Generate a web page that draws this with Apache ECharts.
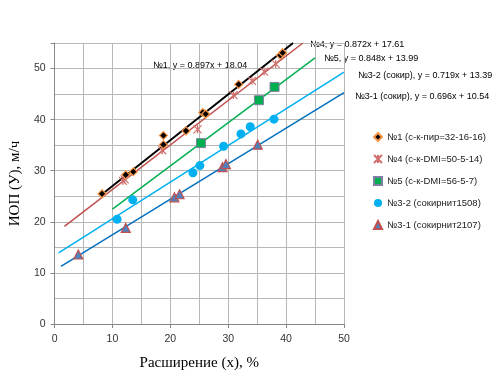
<!DOCTYPE html>
<html>
<head>
<meta charset="utf-8">
<script src="https://cdn.jsdelivr.net/npm/echarts@6/dist/echarts.min.js"></script>
<style>html,body{margin:0;padding:0;background:#fff}#c{width:500px;height:385px}</style>
</head>
<body>
<div id="c"></div>
<script>
// Series names
var names = ['№1 (с-к-пир=32-16-16)', '№4 (с-к-DMI=50-5-14)', '№5 (с-к-DMI=56-5-7)', '№3-2 (сокирнит1508)', '№3-1 (сокирнит2107)'];
// Data points [x, y]
var s1 = [[8.2,25.5],[12.3,29.2],[13.6,29.8],[18.8,35.1],[18.8,36.9],[22.7,37.8],[25.6,41.4],[26.1,41.1],[31.8,46.9],[39.0,52.6],[39.4,53.1]];
var s4 = [[11.8,28.0],[12.1,28.3],[18.6,34.0],[24.7,38.1],[30.9,44.8],[34.1,47.6],[36.2,49.4],[38.2,50.9]];
var s5 = [[25.3,35.4],[35.3,43.8],[38.0,46.4]];
var s32 = [[10.8,20.5],[13.5,24.3],[23.9,29.6],[25.1,31.0],[29.2,34.8],[32.2,37.2],[33.8,38.6],[37.9,40.1]];
var s31 = [[4.1,13.6],[12.3,18.8],[20.7,24.8],[21.6,25.4],[29.0,30.7],[29.6,31.3],[35.1,35.1]];
// Trendline endpoints [x, y] (from equations on chart)
var t1 = [[8.2,25.4],[41.2,55.0]];
var t4 = [[1.7,19.1],[42.9,55.0]];
var t5 = [[10.0,22.5],[45.0,52.1]];
var t32 = [[0.7,13.9],[50.0,49.3]];
var t31 = [[1.1,11.3],[50.0,45.3]];
// Trendline labels
var trendLabels = ['№1, y = 0.897x + 18.04', '№4, y = 0.872x + 17.61', '№5, y = 0.848x + 13.99', '№3-2 (сокир), y = 0.719x + 13.39', '№3-1 (сокир), y = 0.696x + 10.54'];
var xTitle = 'Расширение (x), %';
var yTitle = 'ИОП (У), м/ч';

var chart = echarts.init(document.getElementById('c'), null, {renderer: 'canvas'});
var lab = {fontFamily: 'Liberation Sans', fontSize: 9, color: '#222'};
function trend(d, color, w) {
  return {type: 'line', data: d, symbol: 'none', silent: true, lineStyle: {color: color, width: w}, z: 3, legendHoverLink: false};
}
var xPath = 'path://M0,0L10,10M10,0L0,10M5,0L5,10';
chart.setOption({
  animation: false,
  grid: {left: 51, right: 156, top: 43, bottom: 61},
  xAxis: {
    type: 'value', min: 0, max: 50, interval: 10,
    name: xTitle, nameLocation: 'middle', nameGap: 32,
    nameTextStyle: {fontFamily: 'Liberation Serif', fontSize: 15, color: '#000'},
    axisLine: {lineStyle: {color: '#868686'}},
    axisTick: {show: true, length: 4, lineStyle: {color: '#868686'}},
    axisLabel: {fontFamily: 'Liberation Sans', fontSize: 10.5, color: '#333', margin: 10},
    splitLine: {lineStyle: {color: '#b7b7b7'}},
    minorTick: {show: false, splitNumber: 2},
    minorSplitLine: {show: true, lineStyle: {color: '#b7b7b7'}}
  },
  yAxis: {
    type: 'value', min: 0, max: 55, interval: 10,
    name: yTitle, nameLocation: 'middle', nameGap: 22, nameRotate: 90,
    nameTextStyle: {fontFamily: 'Liberation Serif', fontSize: 15, color: '#000'},
    axisLine: {show: true, lineStyle: {color: '#868686'}},
    axisTick: {show: true, length: 4, lineStyle: {color: '#868686'}},
    axisLabel: {fontFamily: 'Liberation Sans', fontSize: 10.5, color: '#333', margin: 9,
      formatter: function (v) { return v % 10 === 0 ? String(v) : ''; }},
    splitLine: {lineStyle: {color: '#b7b7b7'}},
    minorTick: {show: false, splitNumber: 2},
    minorSplitLine: {show: true, lineStyle: {color: '#b7b7b7'}}
  },
  legend: {
    data: names, orient: 'vertical', left: 368, top: 126,
    itemWidth: 8, itemHeight: 8, itemGap: 10,
    textStyle: {fontFamily: 'Liberation Sans', fontSize: 9.5, color: '#222', lineHeight: 12}
  },
  graphic: [
    {type: 'text', left: 153, top: 61, style: Object.assign({text: trendLabels[0]}, lab)},
    {type: 'text', left: 310, top: 40, style: Object.assign({text: trendLabels[1]}, lab)},
    {type: 'text', left: 324, top: 54, style: Object.assign({text: trendLabels[2]}, lab)},
    {type: 'text', left: 358, top: 71, style: Object.assign({text: trendLabels[3]}, lab)},
    {type: 'text', left: 355, top: 92, style: Object.assign({text: trendLabels[4]}, lab)}
  ],
  series: [
    trend(t31, '#0070c0', 1.5),
    trend(t32, '#00b0f0', 1.5),
    trend(t5, '#00b050', 1.5),
    trend(t4, '#c0504d', 1.5),
    trend(t1, '#000000', 2),
    {name: names[4], type: 'scatter', data: s31, symbol: 'triangle', symbolSize: 9, z: 4,
      itemStyle: {color: '#4f81bd', borderColor: '#c0504d', borderWidth: 1.2, opacity: 1}},
    {name: names[3], type: 'scatter', data: s32, symbol: 'circle', symbolSize: 9, z: 4,
      itemStyle: {color: '#00b0f0', opacity: 1}},
    {name: names[2], type: 'scatter', data: s5, symbol: 'rect', symbolSize: 9, z: 4,
      itemStyle: {color: '#00b050', borderColor: '#7f7f9f', borderWidth: 1, opacity: 1}},
    {name: names[1], type: 'scatter', data: s4, symbol: xPath, symbolSize: 8, z: 4,
      itemStyle: {color: 'rgba(0,0,0,0)', borderColor: '#d0706d', borderWidth: 1.2, opacity: 1}},
    {name: names[0], type: 'scatter', data: s1, symbol: 'diamond', symbolSize: 8, z: 5,
      itemStyle: {color: '#000', borderColor: '#f79646', borderWidth: 1.2, opacity: 1}}
  ]
});
</script>
</body>
</html>
